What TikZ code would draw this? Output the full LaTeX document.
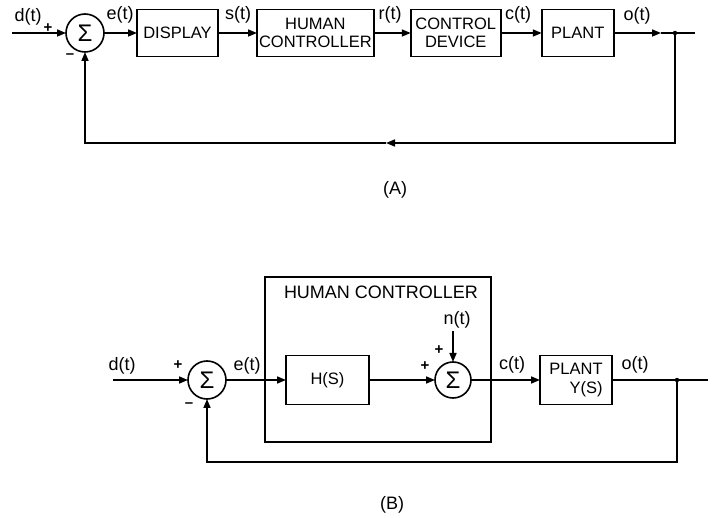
\documentclass[tikz,border=0pt]{standalone}
\usepackage{fontspec}
\setmainfont{Liberation Sans}
\usetikzlibrary{arrows.meta, positioning, calc}
\tikzset{
  block/.style={
    rectangle, draw, line width=1.6pt,
    align=center, inner sep=2pt,
    minimum height=47pt,
    font=\fontsize{16.5}{18.5}\selectfont
  },
  summer/.style={
    circle, draw, line width=1.6pt,
    minimum size=38pt, inner sep=0pt,
    font=\fontsize{24}{24}\selectfont
  },
  line/.style={draw, line width=1.6pt, -{Triangle[length=9pt,width=7pt]}},
  wire/.style={draw, line width=1.6pt},
  sig/.style={font=\fontsize{18}{20}\selectfont, inner sep=0pt},
  sign/.style={font=\fontsize{15}{15}\selectfont\bfseries, inner sep=0pt},
}
\begin{document}
\begin{tikzpicture}[x=1pt, y=-1pt, outer sep=0pt]
  \useasboundingbox (0,0) rectangle (715,518);

  % (A) open chain
  \node[summer] (sumA) at (85,33) {Σ};
  \node[block, minimum width=81pt, right=33pt of sumA] (disp) {DISPLAY};
  \node[block, minimum width=113pt, right=39pt of disp]
    (humA) {HUMAN\\ CONTROLLER};
  \node[block, minimum width=90pt, right=37pt of humA]
    (dev) {CONTROL\\ DEVICE};
  \node[block, minimum width=72pt, right=41pt of dev] (plantA) {PLANT};

  \coordinate (inA) at (12,33);
  \coordinate (arrA) at (661,33);
  \coordinate (jA) at (675,33);
  \coordinate (endA) at (695,33);
  \coordinate (fbA) at (386,143);

  \node[sig] (dA) at (28,17) {d(t)};
  \node[sign] (pA) at (48,28) {+};
  \node[sign] (mA) at (70,56) {--};
  \node[sig] (eA) at (120,15) {e(t)};
  \node[sig] (sA) at (238,15) {s(t)};
  \node[sig] (rA) at (390,15) {r(t)};
  \node[sig] (cA) at (518,15) {c(t)};
  \node[sig] (oA) at (637,16) {o(t)};
  \node[sig] (capA) at (395,190) {(A)};

  \draw[line] (inA) -- (sumA);
  \draw[line] (sumA) -- (disp);
  \draw[line] (disp) -- (humA);
  \draw[line] (humA) -- (dev);
  \draw[line] (dev) -- (plantA);
  \draw[line] (plantA) -- (arrA);
  \draw[wire] (arrA) -- (endA);
  \fill (jA) circle (2.2pt);
  \draw[line] (jA) |- (fbA);
  \draw[line] (fbA) -| (sumA.south);

  % (B) with noise input
  \node[draw, line width=1.6pt, minimum width=226pt, minimum height=165pt]
    (humB) at (378,359.5) {};
  \node[sig, anchor=west] (humlbl) at (284,292) {HUMAN CONTROLLER};
  \node[summer] (sumB) at (207,380) {Σ};
  \node[block, minimum width=83pt, minimum height=49pt, right=60pt of sumB]
    (hs) {H(S)};
  \node[summer, minimum size=36pt] (sumC) at (453,380) {Σ};
  \node[block, minimum width=72pt, minimum height=49pt, align=right,
    right=69pt of sumC] (plantB) {PLANT\\ Y(S)};

  \coordinate (inB) at (113,380);
  \coordinate (jB) at (677,380);
  \coordinate (endB) at (708,380);
  \coordinate (fbB) at (400,462);

  \node[sig] (dB) at (122,366) {d(t)};
  \node[sign] (pB) at (178,365) {+};
  \node[sign] (mB) at (189,405) {--};
  \node[sig] (eB) at (247,366) {e(t)};
  \node[sig] (nB) at (457,320) {n(t)};
  \node[sign] (pC1) at (439,350) {+};
  \node[sign] (pC2) at (425,366) {+};
  \node[sig] (cB) at (512,365) {c(t)};
  \node[sig] (oB) at (635,365) {o(t)};
  \node[sig] (capB) at (392,505) {(B)};

  \draw[line] (inB) -- (sumB);
  \draw[line] (sumB) -- (hs);
  \draw[line] (hs) -- (sumC);
  \draw[line] (sumC |- nB.south) ++(0,3) -- (sumC.north);
  \draw[line] (sumC) -- (plantB);
  \draw[wire] (plantB) -- (endB);
  \fill (jB) circle (2.2pt);
  \draw[line] (jB) |- (fbB) -| (sumB.south);
\end{tikzpicture}
\end{document}
